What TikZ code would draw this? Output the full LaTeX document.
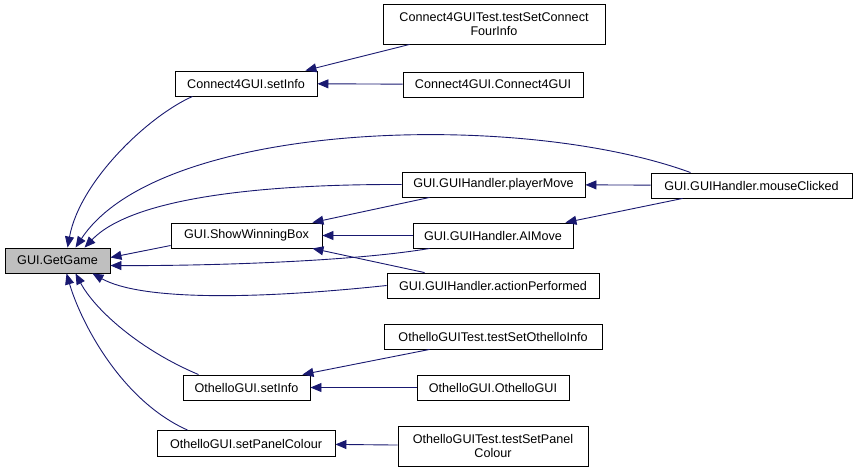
\documentclass[tikz,border=0pt]{standalone}
\usepackage{fontspec}
\setmainfont{Liberation Sans}
\usepackage{tikz}
\usetikzlibrary{arrows.meta,positioning,calc}
\definecolor{edgeblue}{RGB}{25,25,112}
\definecolor{boxgray}{RGB}{191,191,191}

\begin{document}
\begin{tikzpicture}[x=1pt,y=-1pt,
    font=\fontsize{12.6}{14}\selectfont,
    fn/.style={draw=black, line width=0.9pt, inner sep=0pt,
               minimum height=25pt, align=center},
    call/.style={edgeblue, line width=0.9pt,
                 -{Triangle[length=11pt,width=9pt]}}]
    \useasboundingbox (0,0) rectangle (856,472);

    % Called function
    \node[fn, fill=boxgray, minimum width=105pt] (gg) at (57.5,260.5) {GUI.GetGame};

    % Second column
    \node[fn, minimum width=142pt] (c4set) at (246,83.5) {Connect4GUI.setInfo};
    \node[fn, minimum width=151pt] (showwin) at (246.5,235.5) {GUI.ShowWinningBox};
    \node[fn, minimum width=127pt] (othset) at (246.5,387.5) {OthelloGUI.setInfo};
    \node[fn, minimum width=178pt, minimum height=26pt] (panel) at (246,443.5) {OthelloGUI.setPanelColour};

    % Third column
    \node[fn, minimum width=222pt, minimum height=40pt] (c4test) at (494,24)
      {Connect4GUITest.testSetConnect\\FourInfo};
    \node[fn, minimum width=180pt] (c4gui) at (493,84.5) {Connect4GUI.Connect4GUI};
    \node[fn, minimum width=183pt] (pmove) at (493.5,184.5) {GUI.GUIHandler.playerMove};
    \node[fn, minimum width=160pt] (aimove) at (493,235.5) {GUI.GUIHandler.AIMove};
    \node[fn, minimum width=212pt] (action) at (493,285.5) {GUI.GUIHandler.actionPerformed};
    \node[fn, minimum width=218pt] (othtest) at (493,336.5) {OthelloGUITest.testSetOthelloInfo};
    \node[fn, minimum width=152pt] (othgui) at (493,387.5) {OthelloGUI.OthelloGUI};
    \node[fn, minimum width=190pt, minimum height=40pt] (paneltest) at (493,446)
      {OthelloGUITest.testSetPanel\\Colour};

    % Fourth column
    \node[fn, minimum width=201pt] (mouse) at (751.5,185.5) {GUI.GUIHandler.mouseClicked};

    % Calls into GUI.GetGame
    \draw[call] ([xshift=18pt]c4set.south west) .. controls (150,115) and (80,180) .. ([xshift=63pt]gg.north west);
    \draw[call] ([xshift=40pt]mouse.north west) .. controls (520,110) and (160,120) .. ([xshift=71pt]gg.north west);
    \draw[call] (pmove.west) .. controls (250,184) and (130,200) .. ([xshift=80pt]gg.north west);
    \draw[call] ([yshift=-10pt]showwin.west) -- ([yshift=3pt]gg.east);
    \draw[call] ([xshift=17pt]aimove.south west) .. controls (350,262) and (200,266) .. ([yshift=-5pt]gg.east);
    \draw[call] (action.west) .. controls (250,300) and (140,300) .. ([xshift=-18pt]gg.south east);
    \draw[call] ([xshift=16pt]othset.north west) .. controls (140,350) and (95,310) .. ([xshift=71pt]gg.south west);
    \draw[call] ([xshift=31pt]panel.north west) .. controls (120,400) and (80,320) .. ([xshift=62pt]gg.south west);

    % Calls into the second column
    \draw[call] ([xshift=27pt]c4test.south west) -- ([xshift=-12pt]c4set.north east);
    \draw[call] (c4gui) -- (c4set);
    \draw[call] ([xshift=28pt]pmove.south west) -- ([xshift=-10pt]showwin.north east);
    \draw[call] (aimove) -- (showwin);
    \draw[call] ([xshift=38pt]action.north west) -- ([xshift=-10pt]showwin.south east);
    \draw[call] ([xshift=46pt]othtest.south west) -- ([xshift=-8pt]othset.north east);
    \draw[call] (othgui) -- (othset);
    \draw[call] (paneltest) -- (panel);

    % Calls from mouseClicked
    \draw[call] (mouse) -- (pmove);
    \draw[call] ([xshift=32pt]mouse.south west) -- ([xshift=-8pt]aimove.north east);
\end{tikzpicture}
\end{document}
